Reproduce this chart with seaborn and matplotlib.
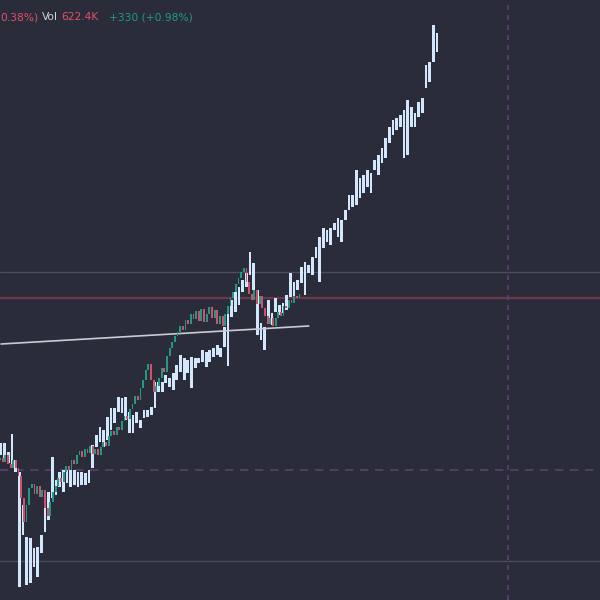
import numpy as np
import seaborn as sns
import matplotlib.pyplot as plt

# candles (close prices, open = previous close)
candle_open0 = 540
candle_close = [542, 538, 545, 536, 532, 540, 532, 524, 502, 478,
                495, 512, 516, 506, 514, 503, 510, 492, 484, 498,
                508, 514, 522, 518, 528, 534, 530, 540, 536, 545,
                549, 543, 551, 547, 554, 546, 551, 545, 553, 558,
                554, 564, 569, 565, 573, 570, 579, 584, 581, 591,
                596, 604, 600, 612, 620, 630, 636, 620, 608, 614,
                622, 632, 628, 644, 652, 658, 664, 668, 674, 670,
                680, 676, 686, 681, 689, 679, 691, 678, 686, 693,
                682, 690, 676, 684, 674, 686, 694, 702, 708, 716,
                722, 728, 732, 718, 706, 700, 710, 696, 704, 692,
                684, 676, 682, 674, 682, 688, 684, 694, 692, 700,
                697, 704, 702, 706]

# projected bars (high / low)
bar_high = [557, 557, 548, 566, 540, 528, 495, 463, 462, 452,
            453, 465, 492, 508, 543, 520, 528, 530, 530, 530,
            530, 528, 528, 527, 530, 555, 565, 573, 570, 583,
            592, 592, 603, 602, 603, 588, 585, 588, 580, 590,
            590, 593, 618, 618, 618, 625, 622, 627, 635, 645,
            642, 640, 643, 642, 642, 650, 648, 650, 652, 655,
            652, 673, 688, 700, 708, 713, 720, 727, 748, 737,
            710, 677, 673, 700, 687, 702, 695, 697, 705, 727,
            718, 720, 733, 738, 735, 743, 753, 763, 772, 770,
            772, 777, 782, 780, 790, 805, 805, 830, 822, 825,
            830, 827, 840, 845, 852, 862, 873, 880, 882, 885,
            890, 900, 893, 887, 898, 902, 935, 938, 975, 967]
bar_low = [545, 542, 537, 533, 528, 413, 465, 415, 417, 433,
           423, 447, 468, 480, 502, 505, 513, 508, 517, 513,
           515, 513, 515, 515, 517, 532, 553, 558, 553, 560,
           570, 577, 588, 587, 580, 567, 567, 577, 572, 582,
           583, 585, 592, 608, 608, 617, 613, 610, 620, 628,
           620, 627, 612, 632, 637, 638, 633, 638, 643, 645,
           643, 653, 634, 683, 688, 695, 708, 713, 725, 710,
           665, 660, 650, 682, 675, 688, 685, 687, 690, 703,
           703, 710, 717, 705, 727, 725, 742, 718, 752, 758,
           755, 770, 763, 758, 780, 790, 793, 795, 802, 807,
           813, 807, 830, 825, 837, 842, 857, 865, 870, 873,
           842, 845, 873, 873, 883, 887, 912, 918, 938, 948]

# drawn trend line (bar index, price)
trend_idx = [0, 84]
trend_price = [656, 674]

# horizontal levels and vertical marker
level_gray = [728, 439]
level_red = 702
level_dash = 530
marker_idx = 138.4

bg = '#2a2d39'
sns.set_theme(style='dark', rc={'axes.facecolor': bg, 'figure.facecolor': bg})
plt.rcParams['font.family'] = ['DejaVu Sans']

fig = plt.figure(figsize=(6, 6), dpi=100)
ax = fig.add_axes([0, 0, 1, 1])
ax.set_facecolor(bg)

# levels
for lv in level_gray:
    ax.axhline(lv, color='#4a4e5b', lw=1, zorder=1)
ax.axhline(level_red, color='#6e3649', lw=1.6, zorder=1)
ax.axhline(level_dash, color='#5e3f72', lw=1.2, ls=(0, (5, 4)), zorder=1)
ax.axvline(marker_idx, color='#5e3f72', lw=1.2, ls=(0, (3, 3)), zorder=1)

# projected bars
hi = np.array(bar_high)
lo = np.array(bar_low)
idx = np.arange(len(hi))
ax.bar(idx, hi - lo, bottom=lo, width=0.74, color='#d2e6fc', edgecolor='none', zorder=3)

# trend line
sns.lineplot(x=trend_idx, y=trend_price, ax=ax, color='#c9ccd6', lw=1.2, zorder=4)

ax.set_xlim(-0.27, 163.5)
ax.set_ylim(400, 1000)
ax.axis('off')

# candles on own time axis
ax2 = ax.twiny()
cl = np.array(candle_close)
op = np.concatenate([[candle_open0], cl[:-1]])
ci = np.arange(len(cl))
up = cl >= op
colors = np.where(up, '#1f9a83', '#d2506a')
bottoms = np.minimum(op, cl)
heights = np.maximum(np.abs(cl - op), 1.5)
ax2.bar(ci, heights, bottom=bottoms, width=0.7, color=colors, edgecolor='none', zorder=5)
ax2.set_xlim(0, 226.4)
ax2.set_ylim(400, 1000)
ax2.axis('off')

# header
fs = 7.7
yh = 1 - 17 / 600
fig.text(0.5 / 600, yh, '0.38%)', color='#e0506a', fontsize=fs, va='center')
fig.text(42 / 600, yh, 'Vol', color='#d1d4dc', fontsize=fs, va='center')
fig.text(61 / 600, yh, '622.4K', color='#e0506a', fontsize=fs, va='center')
fig.text(109 / 600, yh, '+330 (+0.98%)', color='#1f9a83', fontsize=fs, va='center')

plt.savefig('out.png', dpi=100, facecolor=bg)
